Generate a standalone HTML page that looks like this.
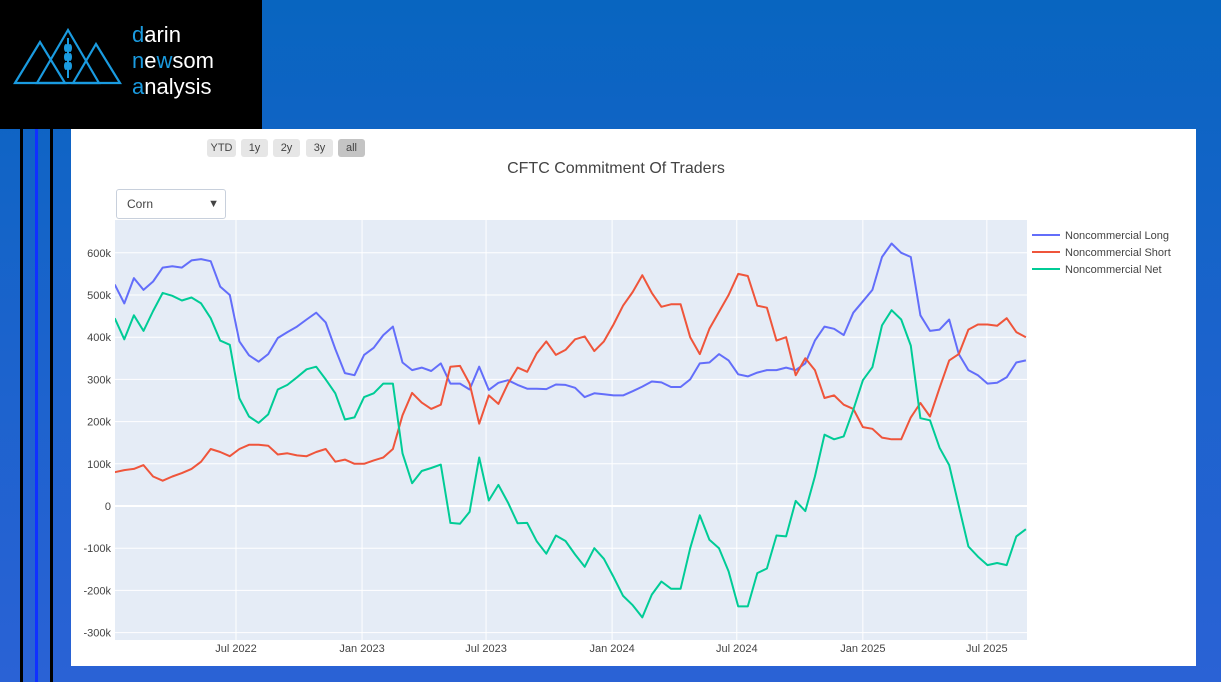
<!DOCTYPE html>
<html><head><meta charset="utf-8">
<style>
html,body{margin:0;padding:0;}
body{width:1221px;height:682px;position:relative;overflow:hidden;font-family:"Liberation Sans",sans-serif;
background:linear-gradient(180deg,#0865c0 0%,#1b63cc 50%,#2a62d5 100%);}
.abs{position:absolute;}
.btn{position:absolute;top:139px;height:18px;line-height:18px;font-size:11px;color:#444;background:#e6e6e6;border-radius:3px;text-align:center;}
</style></head><body>
<div class="abs" style="left:0;top:0;width:262px;height:129px;background:#000;">
  <svg class="abs" style="left:0;top:0" width="262" height="129">
    <g fill="none" stroke="#1a9be0" stroke-width="2.2">
      <polygon points="15,83 40,42 65,83"/>
      <polygon points="37,83 68,30 99,83"/>
      <polygon points="73,83 96,44 120,83"/>
    </g>
    <line x1="68" y1="38" x2="68" y2="78" stroke="#1a9be0" stroke-width="2"/>
    <g fill="#1a9be0"><ellipse cx="66" cy="48" rx="2" ry="4"/><ellipse cx="70" cy="48" rx="2" ry="4"/><ellipse cx="66" cy="57" rx="2" ry="4"/><ellipse cx="70" cy="57" rx="2" ry="4"/><ellipse cx="66" cy="66" rx="2" ry="4"/><ellipse cx="70" cy="66" rx="2" ry="4"/></g>
  </svg>
  <div class="abs" style="left:132px;top:22px;font-size:22px;line-height:26px;color:#fff;">
    <div><span style="color:#1a9be0">d</span>arin</div>
    <div><span style="color:#1a9be0">n</span>e<span style="color:#1a9be0">w</span>som</div>
    <div><span style="color:#1a9be0">a</span>nalysis</div>
  </div>
</div>
<div class="abs" style="left:20px;top:129px;width:3px;height:553px;background:#000"></div>
<div class="abs" style="left:35px;top:129px;width:3px;height:553px;background:#1030ff"></div>
<div class="abs" style="left:50px;top:129px;width:3px;height:553px;background:#000"></div>

<div class="abs" style="left:71px;top:129px;width:1125px;height:537px;background:#fff;"></div>

<div class="btn" style="left:207px;width:29px;">YTD</div>
<div class="btn" style="left:241px;width:27px;">1y</div>
<div class="btn" style="left:273px;width:27px;">2y</div>
<div class="btn" style="left:306px;width:27px;">3y</div>
<div class="btn" style="left:338px;width:27px;background:#c4c4c4;">all</div>

<div class="abs" style="left:416px;width:400px;top:160px;text-align:center;font-size:16px;color:#444;">CFTC Commitment Of Traders</div>

<div class="abs" style="left:116px;top:189px;width:108px;height:28px;border:1px solid #c8d0dc;border-radius:3px;background:#fff;font-size:12px;color:#444;line-height:28px;">
  <span style="margin-left:10px">Corn</span><span style="position:absolute;right:6px;top:0;font-size:11px;">&#9660;</span>
</div>

<svg id="chart" class="abs" style="left:0;top:0" width="1221" height="682"></svg>

<script>
const yTicks = [600000,500000,400000,300000,200000,100000,0,-100000,-200000,-300000];
const yTickLabels = ["600k","500k","400k","300k","200k","100k","0","-100k","-200k","-300k"];
const xTickDates = ["2022-07-01","2023-01-01","2023-07-01","2024-01-01","2024-07-01","2025-01-01","2025-07-01"];
const xTickLabels = ["Jul 2022","Jan 2023","Jul 2023","Jan 2024","Jul 2024","Jan 2025","Jul 2025"];
const seriesNames = ["Noncommercial Long","Noncommercial Short","Noncommercial Net"];
const startDate = "2022-01-05";
const longK = [525,480,540,512,532,565,568,565,582,585,580,520,500,390,357,342,360,398,412,425,442,458,435,372,315,310,358,375,405,425,340,322,328,320,338,290,290,276,330,275,292,298,287,278,278,277,288,287,280,258,267,265,262,262,272,283,295,293,282,282,300,338,340,360,345,312,307,316,322,322,328,322,338,392,425,420,405,458,485,512,590,622,600,590,452,415,418,442,360,322,310,290,292,305,340,345];
const shortK = [80,85,88,97,70,60,70,78,88,105,135,128,118,135,145,145,143,122,125,120,118,128,135,105,110,100,100,108,115,135,215,268,245,230,240,330,332,290,195,262,242,290,328,318,362,390,358,370,395,402,367,390,430,475,507,547,505,472,478,478,400,360,420,460,500,550,545,475,470,392,400,310,350,322,256,262,240,230,187,183,162,158,158,210,244,212,280,345,360,418,430,430,427,445,412,400];
const netK = [445,395,452,415,462,505,498,487,494,480,445,392,382,255,212,197,217,276,287,305,324,330,300,267,205,210,258,267,290,290,125,54,83,90,98,-40,-42,-14,115,13,50,8,-41,-40,-84,-113,-70,-83,-115,-144,-100,-125,-168,-213,-235,-264,-210,-179,-196,-196,-100,-22,-80,-100,-155,-238,-238,-159,-148,-70,-72,12,-12,70,169,158,165,228,298,329,428,464,442,380,208,203,138,97,0,-96,-120,-140,-135,-140,-72,-55];
const colors = ["#636efa","#ef553b","#00cc96"];

const NS="http://www.w3.org/2000/svg";
const svg=document.getElementById('chart');
const PL=115, PR=1027, PT=220, PB=640;
const Y0=506, PXPERK=0.422;
function yScale(v){return Y0 - v/1000*PXPERK*1000/1000*1;} 
function yPos(v){return Y0 - (v/1000)*PXPERK;}
const refDate=Date.parse("2022-07-01"), PXPERDAY=124/181;
function xPos(d){return 236 + (Date.parse(d)-refDate)/86400000*PXPERDAY;}
function mk(tag,attrs){const e=document.createElementNS(NS,tag);for(const k in attrs)e.setAttribute(k,attrs[k]);return e;}

const bg=mk('rect',{x:PL,y:PT,width:PR-PL,height:PB-PT,fill:'#e5ecf6'});


svg.appendChild(bg);

const dates=[];
for(let i=0;i<longK.length;i++){const t=Date.parse(startDate)+i*14*86400000;dates.push(new Date(t).toISOString().slice(0,10));}

yTicks.forEach((v,i)=>{
  const y=yPos(v/1000*1000/1000*1000/1000)||yPos(v/1000*1000);
  const yy=Y0-(v/1000)*PXPERK;
  const g=mk('line',{x1:PL,x2:PR,y1:yy,y2:yy,stroke:'#fff','stroke-width':v===0?2:1});
  
  
  svg.appendChild(g);
  const t=mk('text',{x:PL-4,y:yy+4,'text-anchor':'end','font-size':11,fill:'#444','font-family':'Liberation Sans, sans-serif'});
  t.textContent=yTickLabels[i];
  
  
  svg.appendChild(t);
});
xTickDates.forEach((d,i)=>{
  const x=xPos(d);
  const g=mk('line',{x1:x,x2:x,y1:PT,y2:PB,stroke:'#fff','stroke-width':1});
  
  
  svg.appendChild(g);
  const t=mk('text',{x:x,y:PB+12,'text-anchor':'middle','font-size':11,fill:'#444','font-family':'Liberation Sans, sans-serif'});
  t.textContent=xTickLabels[i];
  
  
  svg.appendChild(t);
});

const clip=mk('clipPath',{id:'pc'});clip.appendChild(mk('rect',{x:PL,y:PT,width:PR-PL,height:PB-PT}));svg.appendChild(clip);
const seriesData=[longK,shortK,netK];
const lineNames=['long-line','short-line','net-line'];
seriesData.forEach((arr,si)=>{
  const pts=arr.map((v,i)=>xPos(dates[i]).toFixed(1)+','+(Y0-v*PXPERK).toFixed(1)).join(' ');
  const p=mk('polyline',{points:pts,fill:'none',stroke:colors[si],'stroke-width':2,'stroke-linejoin':'round','clip-path':'url(#pc)'});
  
  
  svg.appendChild(p);
});
seriesNames.forEach((n,i)=>{
  const y=235+i*17;
  const l=mk('line',{x1:1032,x2:1060,y1:y,y2:y,stroke:colors[i],'stroke-width':2});
  
  
  svg.appendChild(l);
  const t=mk('text',{x:1065,y:y+4,'font-size':11,fill:'#444','font-family':'Liberation Sans, sans-serif'});
  t.textContent=n;
  
  
  svg.appendChild(t);
});
</script>
</body></html>
